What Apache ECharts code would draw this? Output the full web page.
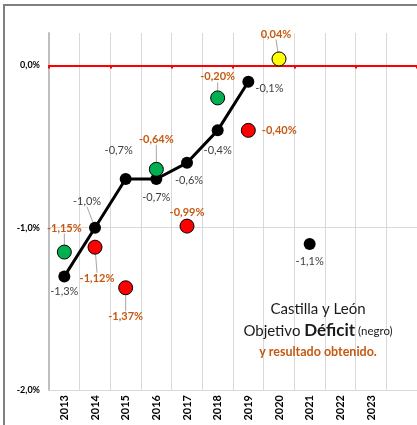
<!DOCTYPE html>
<html>
<head>
<meta charset="utf-8">
<script src="https://cdn.jsdelivr.net/npm/echarts@6/dist/echarts.min.js"></script>
<style>
  html, body { margin: 0; padding: 0; background: #fff; }
  #chart { width: 417px; height: 425px; }
</style>
</head>
<body>
<div id="chart"></div>
<script>
// years on the x axis (last one is the cut-off extra column)
const years = ['2013', '2014', '2015', '2016', '2017', '2018', '2019', '2020', '2021', '2022', '2023', '']
// deficit target (black line)
const objetivo = [-1.3, -1.0, -0.7, -0.7, -0.6, -0.4, -0.1, null, -1.1, null, null, null]
// result obtained (coloured dots)
const resultado = [-1.15, -1.12, -1.37, -0.64, -0.99, -0.20, -0.40, 0.04, null, null, null, null]
const resultadoColor = ['#00b050', '#ff0000', '#ff0000', '#00b050', '#ff0000', '#00b050', '#ff0000', '#ffff00']
const yTicks = [-2, -1, 0]

const FONT = 'Lato'
const fmt = (v, d) => v.toFixed(d).replace('.', ',') + '%'

// label placement for each point: [position, dx, dy, leader line]
const objLabelPos = [
  ['bottom', 0, -2, false], ['top', -8, -9, true], ['top', -7, -11, false], ['bottom', 0, 1, false],
  ['bottom', 2, 0, false], ['bottom', 0, 3, false], ['right', -5, 7, false], null, ['bottom', 0, 0, false]
]
const resLabelPos = [
  ['top', 0, -5, true], ['bottom', 2, 12, true], ['bottom', 0, 10, true], ['top', 0, -11, true],
  ['top', 0, 5, false], ['top', 0, -2, true], ['right', 0, 0, false], ['top', -3, -6, true]
]

const leader = { show: true, length2: 0, lineStyle: { color: '#a6a6a6', width: 1 } }

const chart = echarts.init(document.getElementById('chart'))

const option = {
  animation: false,
  backgroundColor: '#fff',
  textStyle: { fontFamily: FONT },
  title: {
    left: 313,
    top: 293,
    textAlign: 'center',
    text: '{a|Castilla y León}\n{a|Objetivo }{b|Déficit}{c| (negro)}\n{d|y resultado obtenido.}',
    textStyle: {
      fontWeight: 'normal',
      rich: {
        a: { fontFamily: FONT, fontSize: 15, fontWeight: 'normal', color: '#1a1a1a', lineHeight: 22 },
        b: { fontFamily: FONT, fontSize: 17, fontWeight: 'bold', color: '#1a1a1a', lineHeight: 22 },
        c: { fontFamily: FONT, fontSize: 11.5, fontWeight: 'normal', color: '#1a1a1a', lineHeight: 22 },
        d: { fontFamily: FONT, fontSize: 12.5, fontWeight: 'bold', color: '#c65911', lineHeight: 19 }
      }
    }
  },
  graphic: [{
    type: 'rect',
    shape: { x: 4, y: 5, width: 430, height: 440 },
    style: { fill: 'none', stroke: '#7f7f7f', lineWidth: 2 },
    silent: true
  }],
  grid: { left: 49, right: -6, top: 33, bottom: 35 },
  xAxis: [
    {
      type: 'category',
      data: years,
      position: 'bottom',
      axisLine: { onZero: false, lineStyle: { color: '#d9d9d9', width: 1 } },
      axisTick: { show: false },
      splitLine: { show: true, lineStyle: { color: '#d9d9d9', width: 1 } },
      axisLabel: {
        rotate: 90,
        margin: 5,
        fontFamily: FONT,
        fontSize: 11,
        fontWeight: 'bold',
        color: '#000',
        interval: 0
      }
    },
    {
      type: 'category',
      data: years,
      position: 'top',
      axisLine: { onZero: true, lineStyle: { color: '#ff0000', width: 2 } },
      axisTick: { show: true, inside: true, length: 3, lineStyle: { color: '#ff0000', width: 2 } },
      axisLabel: { show: false },
      splitLine: { show: false }
    }
  ],
  yAxis: {
    type: 'value',
    min: -2,
    max: 0.2,
    interval: 1,
    axisLine: { show: true, lineStyle: { color: '#bfbfbf', width: 2 } },
    axisTick: { show: false },
    splitLine: { show: true, lineStyle: { color: ['#d9d9d9', '#d9d9d9', '#d9d9d9', 'rgba(0,0,0,0)'] } },
    axisLabel: {
      showMaxLabel: false,
      margin: 9,
      fontFamily: FONT,
      fontSize: 9,
      fontWeight: 'bold',
      color: '#000',
      formatter: v => yTicks.includes(v) ? fmt(v, 1) : ''
    }
  },
  series: [
    {
      name: 'Objetivo',
      type: 'line',
      data: objetivo.map((v, i) => ({
        value: v,
        label: objLabelPos[i] ? { position: objLabelPos[i][0] } : undefined,
        labelLine: objLabelPos[i] && objLabelPos[i][3] ? leader : { show: false }
      })),
      connectNulls: false,
      symbol: 'circle',
      symbolSize: 12,
      showAllSymbol: true,
      lineStyle: { color: '#000', width: 3 },
      itemStyle: { color: '#000' },
      label: {
        show: true,
        distance: 6,
        fontFamily: FONT,
        fontSize: 11,
        color: '#404040',
        formatter: p => fmt(p.value, 1)
      },
      labelLayout: p => {
        const c = objLabelPos[p.dataIndex]
        return c ? { dx: c[1], dy: c[2] } : {}
      },
      z: 3
    },
    {
      name: 'Resultado',
      type: 'scatter',
      data: resultado.map((v, i) => v === null ? null : ({
        value: v,
        itemStyle: { color: resultadoColor[i] },
        label: { position: resLabelPos[i][0] },
        labelLine: resLabelPos[i][3] ? leader : { show: false }
      })),
      symbol: 'circle',
      symbolSize: 14,
      itemStyle: { borderColor: '#000', borderWidth: 1, opacity: 1 },
      label: {
        show: true,
        distance: 6,
        fontFamily: FONT,
        fontSize: 11,
        fontWeight: 'bold',
        color: '#c65911',
        formatter: p => fmt(p.value, 2)
      },
      labelLayout: p => {
        const c = resLabelPos[p.dataIndex]
        return c ? { dx: c[1], dy: c[2] } : {}
      },
      z: 4
    }
  ]
}

chart.setOption(option)
</script>
</body>
</html>
